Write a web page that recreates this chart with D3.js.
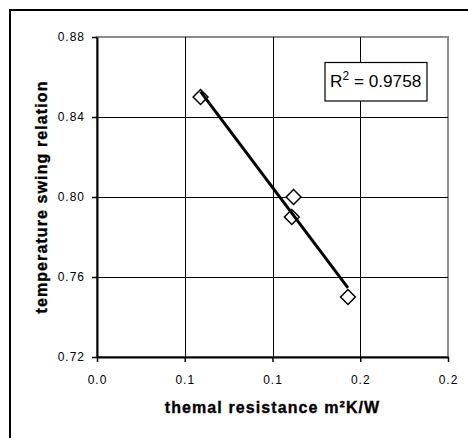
<!DOCTYPE html>
<html>
<head>
<meta charset="utf-8">
<script src="https://cdn.jsdelivr.net/npm/d3@7"></script>
<style>
  html, body { margin: 0; padding: 0; background: #fff; }
  svg { display: block; }
  text { font-family: Arial, "Liberation Sans", sans-serif; fill: #000; }
</style>
</head>
<body>
<svg id="chart" width="468" height="438"></svg>
<script>
// ---- data ----
const thermalResistance = [0.059, 0.112, 0.111, 0.143];
const swingRelation     = [0.85, 0.80, 0.79, 0.75];
const xTickValues = [0, 0.05, 0.1, 0.15, 0.2];
const xTickLabels = ["0.0", "0.1", "0.1", "0.2", "0.2"];
const yTickValues = [0.72, 0.76, 0.80, 0.84, 0.88];
const yTickLabels = ["0.72", "0.76", "0.80", "0.84", "0.88"];
const rSquaredLabel = "0.9758";
const xTitle = "themal resistance m²K/W";
const yTitle = "temperature swing relation";

// ---- layout ----
const svg = d3.select("#chart");
const plot = { left: 97, top: 37, right: 448, bottom: 357 };

const x = d3.scaleLinear().domain([0, 0.2]).range([plot.left, plot.right]);
const y = d3.scaleLinear().domain([0.72, 0.88]).range([plot.bottom, plot.top]);

// outer chart border
svg.append("rect")
  .attr("x", 10).attr("y", 10)
  .attr("width", 470).attr("height", 440)
  .attr("fill", "#fff").attr("stroke", "#000").attr("stroke-width", 2);

// plot area border (gray top/right)
svg.append("rect")
  .attr("x", plot.left).attr("y", plot.top)
  .attr("width", plot.right - plot.left).attr("height", plot.bottom - plot.top)
  .attr("fill", "#fff").attr("stroke", "#8c8c8c").attr("stroke-width", 2);

// gridlines
const grid = svg.append("g");
grid.selectAll(".vg").data(xTickValues.slice(1, -1)).enter().append("line")
  .attr("x1", d => Math.round(x(d)) + 0.5).attr("x2", d => Math.round(x(d)) + 0.5)
  .attr("y1", plot.top).attr("y2", plot.bottom)
  .attr("stroke", "#000").attr("stroke-width", 1);
grid.selectAll(".hg").data(yTickValues.slice(1, -1)).enter().append("line")
  .attr("y1", d => Math.round(y(d)) + 0.5).attr("y2", d => Math.round(y(d)) + 0.5)
  .attr("x1", plot.left).attr("x2", plot.right)
  .attr("stroke", "#000").attr("stroke-width", 1);

// axes
const xAxis = d3.axisBottom(x)
  .tickValues(xTickValues)
  .tickFormat((d, i) => xTickLabels[i])
  .tickSizeInner(5).tickSizeOuter(0).tickPadding(13);
const gx = svg.append("g").attr("transform", `translate(0,${plot.bottom})`).call(xAxis);

const yAxis = d3.axisLeft(y)
  .tickValues(yTickValues)
  .tickFormat((d, i) => yTickLabels[i])
  .tickSizeInner(5).tickSizeOuter(0).tickPadding(8);
const gy = svg.append("g").attr("transform", `translate(${plot.left},0)`).call(yAxis);

[gx, gy].forEach(g => {
  g.select(".domain").attr("stroke", "#000").attr("stroke-width", 2);
  g.selectAll(".tick line").attr("stroke", "#000").attr("stroke-width", 1.5);
  g.selectAll(".tick text")
    .attr("font-family", "Arial, 'Liberation Sans', sans-serif")
    .attr("font-size", 12).attr("letter-spacing", "1px").attr("fill", "#000");
});
gy.selectAll(".tick text").attr("dx", "1px");

// data points: diamonds
const pts = thermalResistance.map((v, i) => ({ x: v, y: swingRelation[i] }));
svg.append("g").selectAll("path").data(pts).enter().append("path")
  .attr("d", d3.symbol().type(d3.symbolDiamond2).size(140))
  .attr("transform", d => `translate(${x(d.x)},${y(d.y)})`)
  .attr("fill", "#fff").attr("stroke", "#000").attr("stroke-width", 1.5);

// linear trendline (least squares)
const mx = d3.mean(pts, d => d.x), my = d3.mean(pts, d => d.y);
const sxy = d3.sum(pts, d => (d.x - mx) * (d.y - my));
const sxx = d3.sum(pts, d => (d.x - mx) ** 2);
const slope = sxy / sxx, intercept = my - slope * mx;
const [x0, x1] = d3.extent(pts, d => d.x);
svg.append("line")
  .attr("x1", x(x0)).attr("y1", y(intercept + slope * x0))
  .attr("x2", x(x1)).attr("y2", y(intercept + slope * x1))
  .attr("stroke", "#000").attr("stroke-width", 3);

// R² label box
const box = svg.append("g");
box.append("rect")
  .attr("x", 325).attr("y", 62.5).attr("width", 102).attr("height", 38.5)
  .attr("fill", "#fff").attr("stroke", "#000").attr("stroke-width", 1.2);
const t = box.append("text").attr("x", 330).attr("y", 87).attr("font-size", 17.2);
t.append("tspan").text("R");
t.append("tspan").attr("font-size", 12).attr("dy", -7).text("2");
t.append("tspan").attr("dy", 7).text(" = " + rSquaredLabel);

// axis titles
svg.append("text")
  .attr("x", (plot.left + plot.right) / 2).attr("y", 413)
  .attr("text-anchor", "middle").attr("font-size", 16).attr("font-weight", "bold")
  .attr("letter-spacing", "1.1px").attr("stroke", "#000").attr("stroke-width", 0.35)
  .text(xTitle);
svg.append("text")
  .attr("transform", `translate(46.5,${(plot.top + plot.bottom) / 2}) rotate(-90)`)
  .attr("text-anchor", "middle").attr("font-size", 16).attr("font-weight", "bold")
  .attr("letter-spacing", "1.1px").attr("stroke", "#000").attr("stroke-width", 0.35)
  .text(yTitle);
</script>
</body>
</html>
